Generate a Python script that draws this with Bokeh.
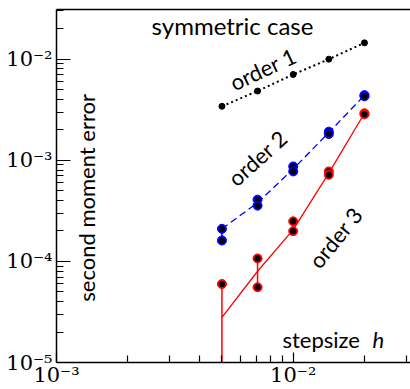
from bokeh.plotting import figure
from bokeh.models import FixedTicker, LogAxis, Label
from bokeh.embed import file_html
from bokeh.resources import INLINE

# ---- data ----
h = [0.005, 0.00707, 0.01, 0.01414, 0.02]
order1 = [3.42e-3, 4.84e-3, 7.06e-3, 1.0e-2, 1.45e-2]
order2_hi = [2.10e-4, 4.08e-4, 8.69e-4, 1.92e-3, 4.41e-3]
order2_lo = [1.61e-4, 3.56e-4, 7.76e-4, 1.82e-3, 4.30e-3]
order2_fit = [2.10e-4, 3.80e-4, 8.20e-4, 1.88e-3, 4.40e-3]
order3_hi = [5.97e-5, 1.07e-4, 2.49e-4, 7.76e-4, 2.92e-3]
order3_lo = [1.0e-6, 5.55e-5, 1.99e-4, 7.19e-4, 2.85e-3]
order3_fit = [2.79e-5, 7.99e-5, 2.06e-4, 7.46e-4, 2.92e-3]

x_major = [1e-3, 1e-2]
x_minor = [m * 1e-3 for m in range(2, 10)] + [2e-2, 3e-2]
x_labels = {1e-3: "10\u207b\u00b3", 1e-2: "10\u207b\u00b2"}
y_major = [1e-5, 1e-4, 1e-3, 1e-2]
y_minor = [m * 10.0 ** e for e in range(-5, -1) for m in range(2, 10)]
y_labels = {1e-5: "10\u207b\u2075", 1e-4: "10\u207b\u2074", 1e-3: "10\u207b\u00b3", 1e-2: "10\u207b\u00b2"}

SANS = "Lato"
SERIF = "DejaVu Serif"

p = figure(width=410, height=389, x_axis_type="log", y_axis_type="log",
           x_range=(1e-3, 0.0313), y_range=(1e-5, 0.031),
           output_backend="svg", toolbar_location=None,
           min_border_left=56, min_border_right=0, min_border_top=9, min_border_bottom=26)
p.xgrid.visible = False
p.ygrid.visible = False
p.outline_line_color = None
p.background_fill_color = "white"
p.border_fill_color = "white"

for ax, major, minor, labels in ((p.xaxis[0], x_major, x_minor, x_labels),
                                 (p.yaxis[0], y_major, y_minor, y_labels)):
    ax.ticker = FixedTicker(ticks=major, minor_ticks=minor)
    ax.major_label_overrides = labels
    ax.axis_line_color = "black"
    ax.axis_line_width = 1.5
    ax.major_tick_line_color = "black"
    ax.minor_tick_line_color = "black"
    ax.major_tick_line_width = 1.2
    ax.minor_tick_line_width = 1.2
    ax.major_tick_out = 0
    ax.minor_tick_out = 0
    ax.minor_tick_in = 7
    ax.major_label_text_font = SERIF
    ax.major_label_text_font_size = "21px"
    ax.major_label_text_color = "black"

p.xaxis[0].major_tick_in = 10
p.xaxis[0].major_label_standoff = 0
p.yaxis[0].major_tick_in = 14
p.yaxis[0].major_label_standoff = 4

top = LogAxis(axis_line_color="black", axis_line_width=1.5,
              major_tick_line_color=None, minor_tick_line_color=None,
              major_label_text_font_size="0px", major_label_standoff=0,
              major_tick_out=0, minor_tick_out=0)
p.add_layout(top, "above")

# order 1
p.line(h, order1, line_color="black", line_width=2, line_dash="2 3")
p.scatter(h, order1, size=6, color="black")

# order 2
p.segment(x0=h, y0=order2_lo, x1=h, y1=order2_hi, line_color="blue", line_width=1.5)
p.line(h, order2_fit, line_color="blue", line_width=1.3, line_dash="7 4")
for ys in (order2_hi, order2_lo):
    p.scatter(h, ys, size=9, color="blue")
    p.scatter(h, ys, size=5.5, color="black")

# order 3
p.segment(x0=h, y0=order3_lo, x1=h, y1=order3_hi, line_color="red", line_width=1.5)
p.line(h, order3_fit, line_color="red", line_width=1.3)
for ys in (order3_hi, order3_lo):
    p.scatter(h, ys, size=9, color="red")
    p.scatter(h, ys, size=5.5, color="black")

def lab(x, y, text, angle=0, align="center", baseline="middle", size="22px", font=SANS, style="normal"):
    p.add_layout(Label(x=x, y=y, text=text, angle=angle, angle_units="deg",
                       text_align=align, text_baseline=baseline,
                       text_font=font, text_font_size=size, text_font_style=style,
                       text_color="black"))

lab(5.54e-3, 0.0214, "symmetric case", size="24px")
lab(9.01e-3, 1.694e-5, "stepsize", align="left")
lab(0.02163, 1.694e-5, "h", align="left", style="italic")
lab(7.45e-3, 8.0e-3, "order 1", angle=25)
lab(7.07e-3, 1.057e-3, "order 2", angle=42)
lab(0.0151, 1.72e-4, "order 3", angle=51)
lab(1.34e-3, 4.25e-4, "second moment error", angle=90)

open("out.html", "w").write(file_html(p, INLINE))
